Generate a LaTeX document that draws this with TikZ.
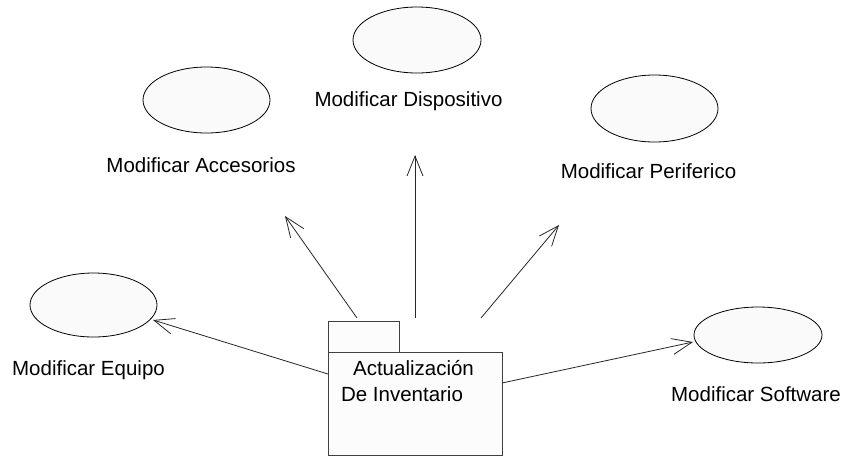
\documentclass[tikz,border=0pt]{standalone}
\usepackage{fontspec}
\setmainfont{Liberation Sans}
\usetikzlibrary{shapes.geometric,arrows.meta}
\tikzset{
  usecase/.style={ellipse,draw=black,fill=black!2,line width=0.8pt,inner sep=0pt,outer sep=0pt},
  lbl/.style={anchor=base,inner sep=0pt,font=\fontsize{20.5}{24}\selectfont},
  pkg/.style={rectangle,draw=black!75,fill=black!1,line width=0.9pt,inner sep=0pt,outer sep=0pt},
  dep/.style={line width=0.8pt,draw=black!85,-{Straight Barb[length=20pt,width=16pt,line width=0.8pt]}}
}
\begin{document}
\begin{tikzpicture}[x=1pt,y=-1pt]
\useasboundingbox (0,0) rectangle (846,456);
% use cases
\node[usecase,minimum width=127pt,minimum height=64pt] (equipo) at (93.5,305) {};
\node[usecase,minimum width=127pt,minimum height=66pt] (acces) at (206.5,100) {};
\node[usecase,minimum width=128pt,minimum height=66pt] (dispo) at (417,40) {};
\node[usecase,minimum width=127pt,minimum height=67pt] (peri) at (654.5,108.5) {};
\node[usecase,minimum width=128pt,minimum height=56pt] (soft) at (758,335) {};
% labels
\node[lbl] (lequipo) at (88.5,375.5) {Modificar Equipo};
\node[lbl] (lacces) at (201,172.5) {Modificar Accesorios};
\node[lbl] (ldispo) at (408.5,106.5) {Modificar Dispositivo};
\node[lbl] (lperi) at (648.5,178.5) {Modificar Periferico};
\node[lbl] (lsoft) at (756,401) {Modificar Software};
% package
\node[pkg,minimum width=71pt,minimum height=31pt] (tab) at (363.5,336.5) {};
\node[pkg,minimum width=174pt,minimum height=103pt] (body) at (415,403.5) {};
\node[lbl] (t1) at (413.5,375.5) {Actualización};
\node[lbl] (t2) at (402,401) {De Inventario};
% arrow end points
\coordinate (s1) at (328,374);  \coordinate (e1) at (153,320);
\coordinate (s2) at (357,318);  \coordinate (e2) at (285,216);
\coordinate (s3) at (415,318);  \coordinate (e3) at (415,155);
\coordinate (s4) at (481,318);  \coordinate (e4) at (559,225);
\coordinate (s5) at (502,383);  \coordinate (e5) at (693,342);
\draw[dep] (s1) -- (e1);
\draw[dep] (s2) -- (e2);
\draw[dep] (s3) -- (e3);
\draw[dep] (s4) -- (e4);
\draw[dep] (s5) -- (e5);
\end{tikzpicture}
\end{document}
